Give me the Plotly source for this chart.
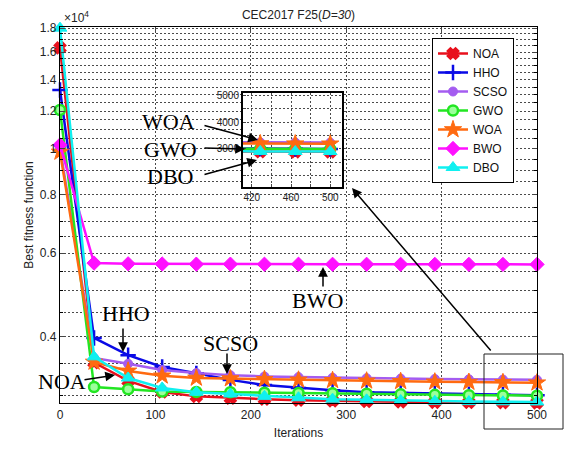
import math
import plotly.graph_objects as go

# ---------------- data ----------------
iters = [0, 35.7, 71.4, 107.1, 142.9, 178.6, 214.3, 250, 285.7, 321.4, 357.1, 392.9, 428.6, 464.3, 500]
noa = [16340, 3520, 3220, 3050, 2985, 2960, 2945, 2930, 2920, 2912, 2905, 2900, 2897, 2895, 2893]
hho = [13310, 3970, 3650, 3445, 3340, 3235, 3155, 3110, 3075, 3045, 3035, 3025, 3015, 3008, 3003]
scso = [10050, 3600, 3500, 3395, 3345, 3310, 3290, 3280, 3270, 3262, 3256, 3250, 3245, 3240, 3236]
gwo = [12070, 3125, 3090, 3055, 3050, 3045, 3040, 3035, 3030, 3025, 3015, 3008, 3003, 2998, 2995]
woa = [9835, 3530, 3380, 3300, 3265, 3255, 3245, 3235, 3228, 3220, 3212, 3205, 3200, 3195, 3190]
bwo = [10180, 5720, 5700, 5695, 5690, 5690, 5688, 5688, 5686, 5686, 5685, 5685, 5684, 5684, 5684]
dbo = [18000, 3620, 3265, 3110, 3045, 3020, 2985, 2965, 2945, 2935, 2925, 2915, 2910, 2907, 2905]

names = ["NOA", "HHO", "SCSO", "GWO", "WOA", "BWO", "DBO"]
series = [noa, hho, scso, gwo, woa, bwo, dbo]
colors = ["#E8101C", "#0A0AE6", "#A45CF0", "#22E622", "#FF6A10", "#FF10FF", "#10F0F0"]
symbols = ["x", "cross-thin", "circle", "circle", "star", "diamond", "triangle-up"]
msizes = [9, 11, 9, 10, 13, 11, 12]

ytick_vals = [4000, 6000, 8000, 10000, 12000, 14000, 16000, 18000]
ytick_text = ["0.4", "0.6", "0.8", "1", "1.2", "1.4", "1.6", "1.8"]
ygrid_minor = [3000, 3500, 4500, 5000, 5500, 6500, 7000, 7500, 8500, 9000, 9500,
               10500, 11000, 11500, 12500, 13000, 13500, 14500, 15000, 15500,
               16500, 17000, 17500]
xtick_vals = [0, 100, 200, 300, 400, 500]
inset_xticks = [420, 440, 460, 480, 500]
inset_xtext = ["420", "", "460", "", "500"]
inset_yticks = [2000, 2500, 3000, 3500, 4000, 4500, 5000]
inset_ytext = ["", "", "3000", "", "4000", "", "5000"]

# ---------------- layout geometry (pixels) ----------------
W, H = 570, 450
L, R, T, B = 60, 537, 27, 403
XR = [0, 500]
XR2 = [411, 512]
YR2 = [1590, 5075]


def paper(px, py):
    return (px - L) / (R - L), (B - py) / (B - T)


GC = "#4a4a4a"
DOT = "2px,2px"

fig = go.Figure()

for name, ys, c, s, ms in zip(names, series, colors, symbols, msizes):
    if name == "GWO":
        mk = dict(symbol=s, size=ms, color="#9CFF9C", line=dict(color=c, width=2.5))
    elif s in ("x", "cross-thin"):
        mk = dict(symbol=s, size=ms, color=c, line=dict(color=c, width=2.5))
    else:
        mk = dict(symbol=s, size=ms, color=c, line=dict(color=c, width=1))
    fig.add_trace(go.Scatter(x=iters, y=ys, name=name, mode="lines+markers",
                             line=dict(color=c, width=2.5), marker=mk,
                             cliponaxis=False, xaxis="x", yaxis="y"))
    fig.add_trace(go.Scatter(x=iters, y=ys, name=name, mode="lines+markers",
                             line=dict(color=c, width=2.5), marker=mk,
                             showlegend=False, xaxis="x2", yaxis="y2"))

x0i, y1i = paper(243, 93)
x1i, y0i = paper(342, 187)

gridstyle = dict(showgrid=True, gridcolor=GC, griddash=DOT, gridwidth=1)
axfont = dict(family="Liberation Sans, Arial", size=12, color="#222")
smallfont = dict(family="Liberation Sans, Arial", size=10, color="#222")
yrange = [math.log10(2890), math.log10(18100)]

fig.update_layout(
    width=W, height=H,
    margin=dict(l=L, r=W - R, t=T, b=H - B),
    paper_bgcolor="white", plot_bgcolor="white",
    showlegend=True,
    font=dict(family="Liberation Sans, Arial", size=12, color="#222"),
    title=dict(text="CEC2017 F25(<i>D=30</i>)", x=(L + R) / 2 / W, xanchor="center",
               y=1 - 15 / H, yanchor="middle", font=dict(size=12, color="#222")),
    xaxis=dict(range=XR, tickvals=xtick_vals, ticks="inside", ticklen=5,
               showline=True, linecolor="black", linewidth=1.2, mirror="ticks",
               tickfont=axfont, zeroline=False, domain=[0, 1],
               title=dict(text="Iterations", font=axfont, standoff=8), **gridstyle),
    yaxis=dict(type="log", range=yrange,
               tickvals=ytick_vals, ticktext=ytick_text, ticks="inside", ticklen=5,
               showline=True, linecolor="black", linewidth=1.2, mirror="ticks",
               tickfont=axfont, zeroline=False, domain=[0, 1],
               title=dict(text="Best fitness function", font=axfont, standoff=3), **gridstyle),
    # overlay axes used for the minor dotted grid and minor ticks on both sides
    yaxis3=dict(type="log", range=yrange, overlaying="y", anchor="x", side="left",
                tickvals=ygrid_minor, ticktext=[""] * len(ygrid_minor),
                ticks="inside", ticklen=3, tickcolor="black", showline=False,
                zeroline=False, **gridstyle),
    yaxis4=dict(type="log", range=yrange, overlaying="y", anchor="x", side="right",
                tickvals=ygrid_minor, ticktext=[""] * len(ygrid_minor),
                ticks="inside", ticklen=3, tickcolor="black", showline=False,
                showgrid=False, zeroline=False),
    xaxis2=dict(domain=[x0i, x1i], anchor="y2", range=XR2, tickvals=inset_xticks,
                ticktext=inset_xtext,
                ticks="inside", ticklen=3, showline=True, linecolor="black", linewidth=2,
                mirror=True, tickfont=smallfont, zeroline=False, **gridstyle),
    yaxis2=dict(domain=[y0i, y1i], anchor="x2", range=YR2, tickvals=inset_yticks,
                ticktext=inset_ytext,
                ticks="inside", ticklen=3, showline=True, linecolor="black", linewidth=2,
                mirror=True, tickfont=smallfont, zeroline=False, **gridstyle),
    legend=dict(x=paper(432, 0)[0], y=paper(0, 38)[1], xanchor="left", yanchor="top",
                bgcolor="white", bordercolor="black", borderwidth=1,
                font=dict(family="Liberation Sans, Arial", size=12, color="#111"),
                tracegroupgap=0, itemwidth=30),
)

# invisible traces so the overlay axes are drawn
fig.add_trace(go.Scatter(x=[None], y=[None], yaxis="y3", showlegend=False, hoverinfo="skip"))
fig.add_trace(go.Scatter(x=[None], y=[None], yaxis="y4", showlegend=False, hoverinfo="skip"))

annotations = []
annotations.append(dict(text="×10<sup>4</sup>", xref="paper", yref="paper",
                        x=paper(62, 0)[0], y=paper(0, 17)[1], xanchor="left", yanchor="middle",
                        showarrow=False, font=dict(size=12, color="#222")))

serif = dict(family="Liberation Serif, Times New Roman", size=22, color="black")
labels = [("WOA", 168, 121), ("GWO", 170, 149), ("DBO", 170, 176), ("HHO", 126, 313),
          ("SCSO", 230, 343), ("NOA", 62, 381), ("BWO", 317, 300)]
for t, px, py in labels:
    xp, yp = paper(px, py)
    annotations.append(dict(text=t, xref="paper", yref="paper", x=xp, y=yp,
                            xanchor="center", yanchor="middle", showarrow=False, font=serif))

arrows = [((203, 125), (258, 140)), ((203, 148), (245, 149)), ((203, 175), (257, 160)),
          ((123, 327), (123, 352)), ((227, 352), (227, 374)), ((83, 380), (115, 375)),
          ((323, 288), (323, 267)), ((492, 352), (352, 188))]
for (tx, ty), (hx, hy) in arrows:
    xp, yp = paper(hx, hy)
    annotations.append(dict(text="", xref="paper", yref="paper", x=xp, y=yp,
                            ax=tx - hx, ay=ty - hy, axref="pixel", ayref="pixel",
                            showarrow=True, arrowhead=2, arrowsize=1.3, arrowwidth=1.5,
                            arrowcolor="black", standoff=0, startstandoff=0))
fig.update_layout(annotations=annotations)

bx0, by1 = paper(484, 354)
bx1, by0 = paper(563, 429)
fig.add_shape(type="rect", xref="paper", yref="paper", x0=bx0, x1=bx1, y0=by0, y1=by1,
              line=dict(color="#222", width=1))

fig.write_html("out.html")
